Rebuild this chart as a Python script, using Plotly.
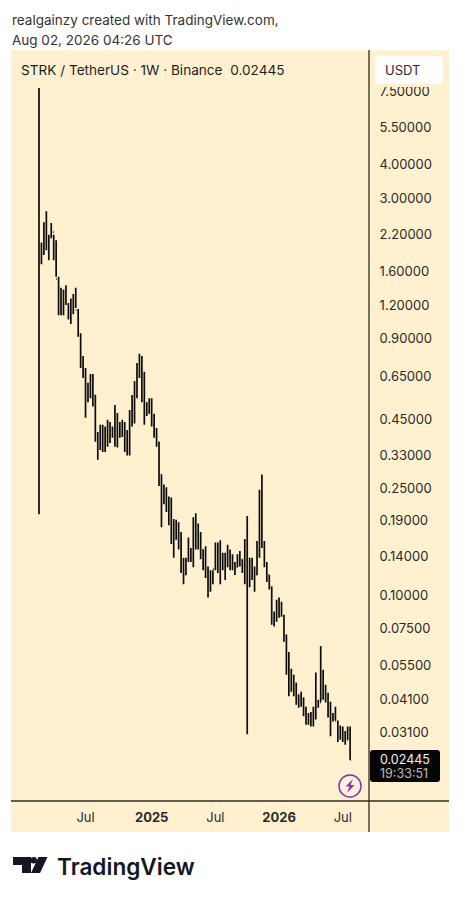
import plotly.graph_objects as go
import pandas as pd

FONT = "Inter"
BG = "#FFF1CF"
RULE = "#2E2A1E"

start_week = "2024-02-19"
highs = [7.70,2.05,2.44,2.68,2.19,2.42,2.19,2.09,1.53,1.39,1.37,1.42,1.22,1.27,1.32,1.39,1.16,.943,.775,.700,
 .617,.665,.665,.555,.405,.431,.431,.424,.449,.441,.424,.510,.476,.441,.449,.441,.412,.489,.555,.626,
 .730,.790,.775,.678,.522,.540,.540,.473,.419,.372,.281,.258,.252,.233,.231,.192,.191,.187,.172,.138,
 .138,.164,.150,.195,.202,.185,.172,.148,.152,.128,.124,.124,.157,.157,.160,.144,.144,.154,.148,.142,
 .133,.142,.146,.136,.162,.197,.138,.138,.128,.159,.247,.281,.159,.133,.119,.108,.0870,.0963,.0980,.0947,
 .0847,.0713,.0615,.0533,.0506,.0474,.0427,.0438,.0418,.0385,.0365,.0368,.0385,.0516,.0409,.0647,.0529,.0465,.0434,.0402,
 .0365,.0385,.0342,.0328,.0325,.0313,.0325,.0325]
lows = [.200,1.70,1.84,1.92,1.76,2.13,1.76,1.53,1.10,1.10,1.10,1.20,1.06,1.02,1.11,1.17,.914,.700,.643,.457,
 .522,.540,.503,.372,.319,.347,.341,.341,.357,.368,.385,.357,.354,.385,.388,.341,.331,.331,.424,.435,
 .540,.643,.522,.431,.464,.473,.424,.385,.357,.255,.179,.218,.204,.182,.155,.138,.161,.148,.121,.110,
 .119,.133,.133,.127,.148,.148,.136,.124,.116,.0980,.103,.110,.124,.121,.110,.124,.114,.127,.124,.124,
 .119,.127,.128,.121,.110,.0304,.107,.114,.103,.119,.138,.150,.127,.112,.105,.0777,.0765,.0797,.0825,.0832,
 .0672,.0506,.0421,.0438,.0421,.0392,.0382,.0385,.0355,.0330,.0330,.0325,.0325,.0345,.0382,.0402,.0409,.0399,.0351,.0299,
 .0339,.0342,.0285,.0290,.0285,.0278,.0290,.02445]
opens = [2.00,1.92,1.95,2.19,2.09,2.13,2.24,2.05,1.50,1.25,1.31,1.25,1.21,1.13,1.20,1.25,1.15,.930,.750,.688,
 .605,.555,.605,.555,.395,.378,.395,.378,.405,.412,.412,.405,.449,.405,.412,.419,.378,.405,.456,.510,
 .580,.665,.738,.605,.489,.489,.510,.456,.412,.370,.281,.247,.236,.226,.217,.175,.168,.178,.161,.130,
 .119,.135,.142,.142,.168,.175,.168,.148,.136,.127,.110,.114,.125,.142,.136,.130,.136,.130,.142,.136,
 .130,.127,.134,.136,.127,.150,.136,.119,.124,.119,.154,.217,.158,.132,.119,.107,.0847,.0811,.0884,.0884,
 .0840,.0713,.0576,.0529,.0485,.0465,.0427,.0402,.0409,.0376,.0351,.0345,.0339,.0368,.0385,.0399,.0506,.0446,.0427,.0376,
 .0360,.0351,.0340,.0304,.0310,.0304,.0290,.0310]
closes = [1.92,1.95,2.19,2.09,2.13,2.24,2.05,1.50,1.25,1.31,1.25,1.21,1.13,1.20,1.25,1.15,.930,.750,.688,.605,
 .555,.605,.555,.395,.378,.395,.378,.405,.412,.412,.405,.449,.405,.412,.419,.378,.405,.456,.510,.580,
 .665,.738,.605,.489,.489,.510,.456,.412,.370,.281,.247,.236,.226,.217,.175,.168,.178,.161,.130,.119,
 .135,.142,.142,.168,.175,.168,.148,.136,.127,.110,.114,.125,.142,.136,.130,.136,.130,.142,.136,.130,
 .127,.134,.136,.127,.150,.136,.119,.124,.119,.154,.217,.158,.132,.119,.107,.0847,.0811,.0884,.0884,.0840,
 .0713,.0576,.0529,.0485,.0465,.0427,.0402,.0409,.0376,.0351,.0345,.0339,.0368,.0385,.0399,.0506,.0446,.0427,.0376,.0360,
 .0351,.0340,.0304,.0310,.0304,.0290,.0310,.02445]

price_ticks = [7.5,5.5,4.0,3.0,2.2,1.6,1.2,0.9,0.65,0.45,0.33,0.25,0.19,0.14,0.10,0.075,0.055,0.041,0.031]
price_labels = ["7.50000","5.50000","4.00000","3.00000","2.20000","1.60000","1.20000","0.90000","0.65000","0.45000",
                "0.33000","0.25000","0.19000","0.14000","0.10000","0.07500","0.05500","0.04100","0.03100"]
time_ticks = ["2024-07-01","2025-01-06","2025-07-07","2026-01-05","2026-07-06"]
time_labels = ["Jul","<b>2025</b>","Jul","<b>2026</b>","Jul"]

W, H = 461, 900
fx = lambda x: x / W
fy = lambda y: 1 - y / H
weeks = pd.date_range(start_week, periods=len(closes), freq="7D")

fig = go.Figure(go.Ohlc(
    x=weeks, open=opens, high=highs, low=lows, close=closes,
    increasing=dict(line=dict(color="#0C0C0C", width=1.7)),
    decreasing=dict(line=dict(color="#0C0C0C", width=1.7)),
    tickwidth=0.3, hoverinfo="skip", showlegend=False))

def rect(x0, y0, x1, y1, **kw):
    return dict(type="rect", xref="paper", yref="paper", x0=fx(x0), x1=fx(x1), y0=fy(y0), y1=fy(y1),
                line=dict(width=0), **kw)

def rrect(x0, y0, x1, y1, r, color):
    p = (f"M{fx(x0+r)},{fy(y0)} L{fx(x1-r)},{fy(y0)} Q{fx(x1)},{fy(y0)} {fx(x1)},{fy(y0+r)} "
         f"L{fx(x1)},{fy(y1-r)} Q{fx(x1)},{fy(y1)} {fx(x1-r)},{fy(y1)} L{fx(x0+r)},{fy(y1)} "
         f"Q{fx(x0)},{fy(y1)} {fx(x0)},{fy(y1-r)} L{fx(x0)},{fy(y0+r)} Q{fx(x0)},{fy(y0)} {fx(x0+r)},{fy(y0)} Z")
    return dict(type="path", xref="paper", yref="paper", path=p, fillcolor=color, line=dict(width=0), layer="above")

def poly(points, color, layer="above"):
    p = "M" + " L".join(f"{fx(a)},{fy(b)}" for a, b in points) + " Z"
    return dict(type="path", xref="paper", yref="paper", path=p, fillcolor=color, line=dict(width=0), layer=layer)

shapes = [
    rect(11, 50, 449, 832, fillcolor=BG, layer="below"),
    dict(type="line", xref="paper", yref="paper", x0=fx(369), x1=fx(369), y0=fy(50), y1=fy(832),
         line=dict(color=RULE, width=1.3), layer="above"),
    dict(type="line", xref="paper", yref="paper", x0=fx(11), x1=fx(449), y0=fy(801), y1=fy(801),
         line=dict(color=RULE, width=1.3), layer="above"),
    rect(371, 50, 449, 87, fillcolor=BG, layer="above"),
    rrect(375, 56, 443, 84, 5, "#FFFFFF"),
    rrect(370, 750, 440, 782, 3, "#050505"),
    dict(type="circle", xref="paper", yref="paper", x0=fx(339), x1=fx(361), y0=fy(775), y1=fy(797),
         fillcolor="rgba(255,255,255,0.25)", line=dict(color="#8E2DB3", width=1.5), layer="above"),
    poly([(353, 779), (345.5, 786.5), (349.5, 786.5), (347, 793), (354.5, 785), (350.5, 785)], "#8E2DB3"),
    # TradingView mark
    poly([(13, 857), (31, 857), (31, 873), (22, 873), (22, 865), (13, 865)], "#131722"),
    dict(type="circle", xref="paper", yref="paper", x0=fx(30.5), x1=fx(37), y0=fy(857), y1=fy(863.5),
         fillcolor="#131722", line=dict(width=0), layer="above"),
    poly([(38.5, 857), (47.5, 857), (40, 873), (31, 873)], "#131722"),
]

def note(x, y, text, size=13, color="#2A2A2A", weight=400, family=FONT):
    return dict(xref="paper", yref="paper", x=fx(x), y=fy(y), xanchor="left", yanchor="middle",
                text=text, showarrow=False, align="left", borderpad=0,
                font=dict(family=family, size=size, color=color, weight=weight))

annotations = [
    note(11, 20, "realgainzy created with TradingView.com,", 13.5, "#333333"),
    note(11, 40, "Aug 02, 2026 04:26 UTC", 13.5, "#333333"),
    note(20, 70, "STRK / TetherUS · 1W · Binance  0.02445", 13.6, "#1E1E1E"),
    note(384, 70, "USDT", 13, "#2A2A2A"),
    note(379, 759, "0.02445", 12.5, "#F2F2F2"),
    note(379, 773, "19:33:51", 12.5, "#BDBDBD"),
    note(56, 866, "TradingView", 22.6, "#131722", 600),
]

fig.update_layout(
    width=W, height=H, margin=dict(l=0, r=0, t=0, b=0), autosize=False,
    paper_bgcolor="#FFFFFF", plot_bgcolor="rgba(0,0,0,0)", showlegend=False,
    dragmode=False, shapes=shapes, annotations=annotations,
    font=dict(family=FONT, size=13, color="#2A2A2A"),
    xaxis=dict(domain=[fx(11), fx(369)], type="date", range=["2023-12-01", "2026-09-19"],
               tickmode="array", tickvals=time_ticks, ticktext=time_labels, ticklabelmode="instant",
               tickfont=dict(family=FONT, size=13, color="#2A2A2A"),
               ticks="outside", ticklen=4, tickcolor="rgba(0,0,0,0)", showgrid=False, zeroline=False,
               showline=False, rangeslider=dict(visible=False), fixedrange=True),
    yaxis=dict(domain=[fy(801), fy(50)], type="log", range=[-1.765, 1.0275], side="right",
               tickmode="array", tickvals=price_ticks, ticktext=price_labels,
               tickfont=dict(family=FONT, size=13, color="#2A2A2A"),
               ticks="outside", ticklen=7, tickcolor="rgba(0,0,0,0)", showgrid=False, zeroline=False,
               showline=False, fixedrange=True),
)

fig.write_html("out.html", config=dict(displayModeBar=False),
               post_script="document.body.style.margin='0';")
